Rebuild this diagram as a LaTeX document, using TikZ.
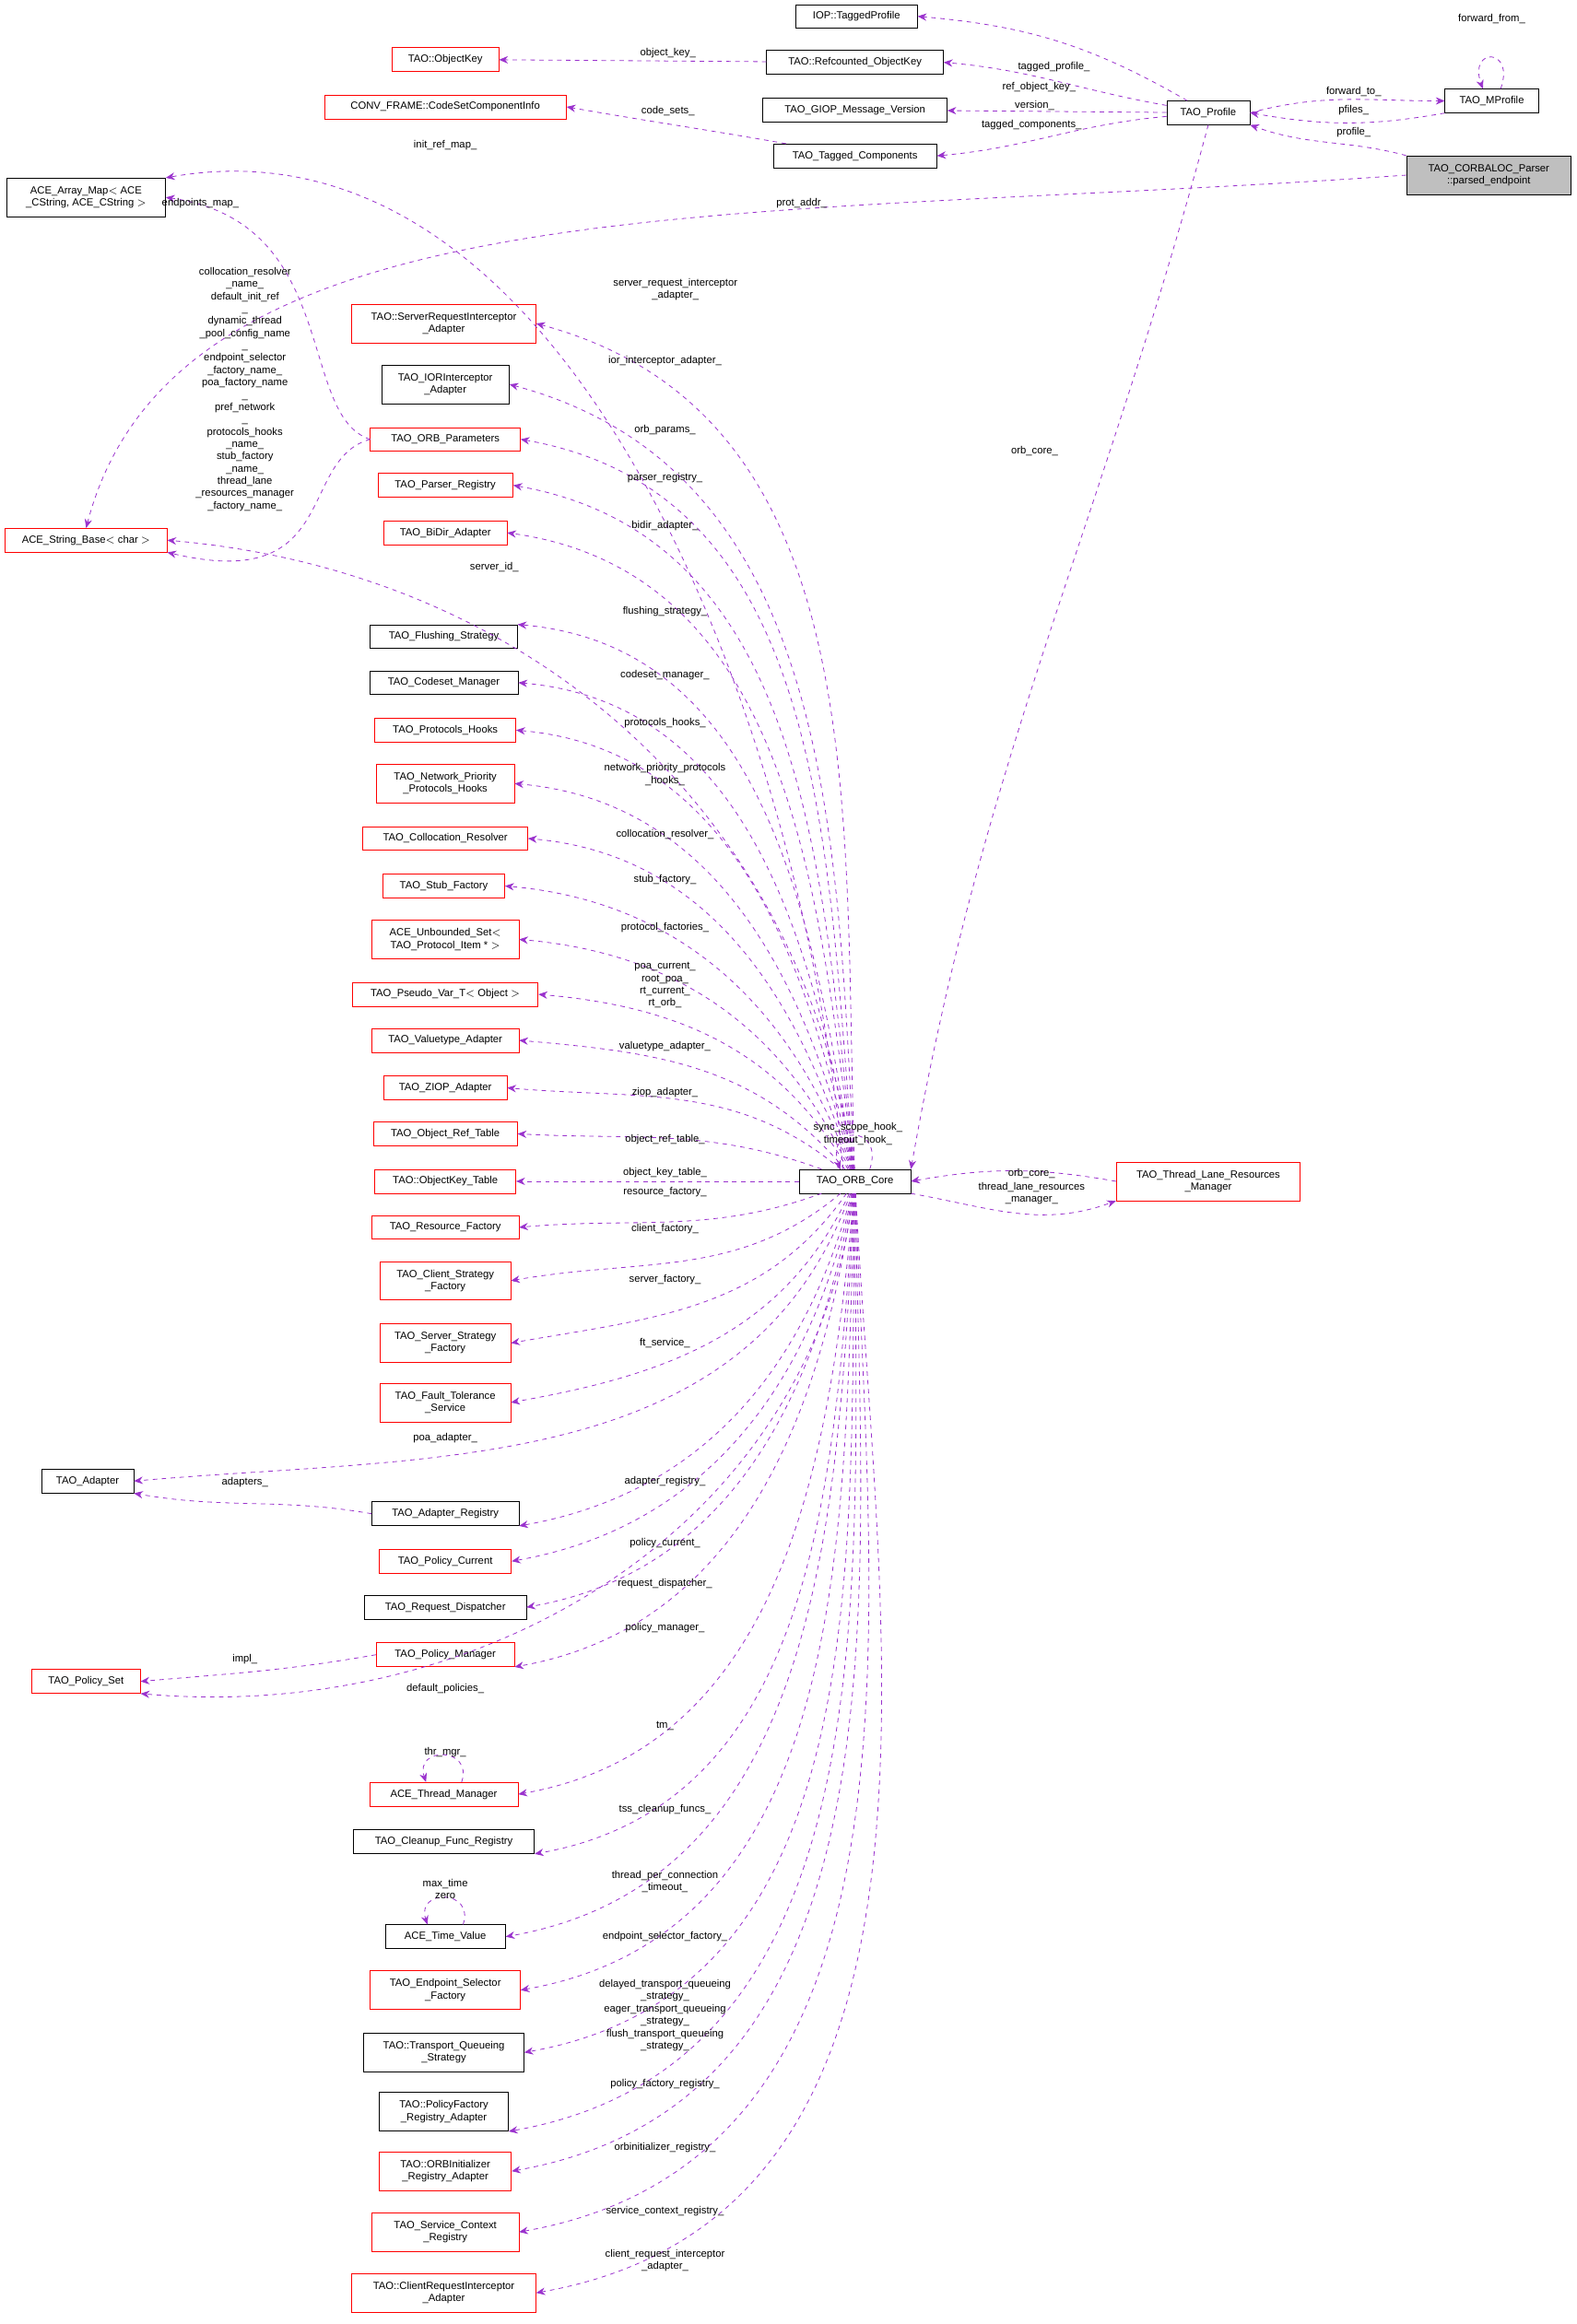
\documentclass[tikz,border=0pt]{standalone}
\usepackage{fontspec}
\setmainfont{Liberation Sans}
\usetikzlibrary{arrows.meta}
\definecolor{ed}{RGB}{154,50,205}
\begin{document}
\begin{tikzpicture}[x=1pt,y=-1pt,font=\fontsize{7}{8.3}\selectfont,
 bk/.style={draw=black,fill=white,inner sep=1pt,align=center,minimum height=16pt},
 rd/.style={bk,draw=red},
 gr/.style={bk,fill=black!25},
 tw/.style={minimum height=26pt},
 e/.style={draw=ed,dashed,-{Stealth[length=6pt,width=5pt]},line width=0.5pt},
 lb/.style={align=center,inner sep=0pt}]
\useasboundingbox (0,0) rectangle (1062,1566);
% nodes
\node[bk,minimum width=82pt] (tp) at (577,11) {IOP::TaggedProfile};
\node[rd,minimum width=72pt] (ok) at (300,40) {TAO::ObjectKey};
\node[bk,minimum width=119pt] (rok) at (576,42) {TAO::Refcounted\_ObjectKey};
\node[rd,minimum width=163pt] (cs) at (300,72) {CONV\_FRAME::CodeSetComponentInfo};
\node[bk,minimum width=124pt] (gv) at (576,74) {TAO\_GIOP\_Message\_Version};
\node[bk,minimum width=110pt] (tc) at (576,105) {TAO\_Tagged\_Components};
\node[bk,minimum width=56pt] (pr) at (814,76) {TAO\_Profile};
\node[bk,minimum width=63pt] (mp) at (1005,68) {TAO\_MProfile};
\node[gr,tw,minimum width=111pt] (pe) at (1003,118) {TAO\_CORBALOC\_Parser\\::parsed\_endpoint};
\node[bk,tw,minimum width=107pt] (am) at (58,133) {ACE\_Array\_Map$<$ ACE\\\_CString, ACE\_CString $>$};
\node[rd,minimum width=109pt] (sb) at (58,364) {ACE\_String\_Base$<$ char $>$};
\node[rd,tw,minimum width=124pt] (sri) at (299,218) {TAO::ServerRequestInterceptor\\\_Adapter};
\node[bk,tw,minimum width=86pt] (ior) at (300,259) {TAO\_IORInterceptor\\\_Adapter};
\node[rd,minimum width=101pt] (op) at (300,296) {TAO\_ORB\_Parameters};
\node[rd,minimum width=91pt] (prr) at (300,327) {TAO\_Parser\_Registry};
\node[rd,minimum width=83pt] (bd) at (300,359) {TAO\_BiDir\_Adapter};
\node[bk,minimum width=99pt] (fs) at (299,429) {TAO\_Flushing\_Strategy};
\node[bk,minimum width=100pt] (cm) at (299,460) {TAO\_Codeset\_Manager};
\node[rd,minimum width=95pt] (ph) at (300,492) {TAO\_Protocols\_Hooks};
\node[rd,tw,minimum width=93pt] (np) at (300,528) {TAO\_Network\_Priority\\\_Protocols\_Hooks};
\node[rd,minimum width=111pt] (cr) at (300,565) {TAO\_Collocation\_Resolver};
\node[rd,minimum width=82pt] (sf) at (299,597) {TAO\_Stub\_Factory};
\node[rd,tw,minimum width=99pt] (us) at (300,633) {ACE\_Unbounded\_Set$<$\\TAO\_Protocol\_Item * $>$};
\node[rd,minimum width=125pt] (pv) at (300,670) {TAO\_Pseudo\_Var\_T$<$ Object $>$};
\node[rd,minimum width=99pt] (va) at (300,701) {TAO\_Valuetype\_Adapter};
\node[rd,minimum width=83pt] (za) at (300,733) {TAO\_ZIOP\_Adapter};
\node[rd,minimum width=97pt] (ort) at (300,764) {TAO\_Object\_Ref\_Table};
\node[rd,minimum width=95pt] (okt) at (300,796) {TAO::ObjectKey\_Table};
\node[rd,minimum width=99pt] (rf) at (300,827) {TAO\_Resource\_Factory};
\node[rd,tw,minimum width=88pt] (csf) at (300,863) {TAO\_Client\_Strategy\\\_Factory};
\node[rd,tw,minimum width=88pt] (ssf) at (300,905) {TAO\_Server\_Strategy\\\_Factory};
\node[rd,tw,minimum width=88pt] (ft) at (300,945) {TAO\_Fault\_Tolerance\\\_Service};
\node[bk,minimum width=62pt] (ad) at (59,998) {TAO\_Adapter};
\node[bk,minimum width=99pt] (ar) at (300,1020) {TAO\_Adapter\_Registry};
\node[rd,minimum width=89pt] (pc) at (300,1052) {TAO\_Policy\_Current};
\node[bk,minimum width=109pt] (rdp) at (300,1083) {TAO\_Request\_Dispatcher};
\node[rd,minimum width=93pt] (pm) at (300,1115) {TAO\_Policy\_Manager};
\node[rd,minimum width=73pt] (ps) at (58,1133) {TAO\_Policy\_Set};
\node[rd,minimum width=100pt] (tm) at (299,1209) {ACE\_Thread\_Manager};
\node[bk,minimum width=122pt] (cf) at (299,1241) {TAO\_Cleanup\_Func\_Registry};
\node[bk,minimum width=81pt] (tv) at (300,1305) {ACE\_Time\_Value};
\node[rd,tw,minimum width=101pt] (es) at (300,1341) {TAO\_Endpoint\_Selector\\\_Factory};
\node[bk,tw,minimum width=108pt] (tq) at (299,1383) {TAO::Transport\_Queueing\\\_Strategy};
\node[bk,tw,minimum width=87pt] (pfr) at (299,1423) {TAO::PolicyFactory\\\_Registry\_Adapter};
\node[rd,tw,minimum width=89pt] (oir) at (300,1463) {TAO::ORBInitializer\\\_Registry\_Adapter};
\node[rd,tw,minimum width=99pt] (scr) at (300,1504) {TAO\_Service\_Context\\\_Registry};
\node[rd,tw,minimum width=124pt] (cri) at (299,1545) {TAO::ClientRequestInterceptor\\\_Adapter};
\node[bk,minimum width=75pt] (core) at (576,796) {TAO\_ORB\_Core};
\node[rd,tw,minimum width=124pt] (tl) at (814,796) {TAO\_Thread\_Lane\_Resources\\\_Manager};
\coordinate (mpa) at ([xshift=6pt]mp.north);
\coordinate (mpb) at ([xshift=-6pt]mp.north);
\coordinate (ca) at ([xshift=10pt]core.north);
\coordinate (cb) at ([xshift=-10pt]core.north);
\coordinate (tma) at ([xshift=12pt]tm.north);
\coordinate (tmb) at ([xshift=-12pt]tm.north);
\coordinate (tva) at ([xshift=12pt]tv.north);
\coordinate (tvb) at ([xshift=-12pt]tv.north);
% top edges
\draw[e] (pr) to[out=150,in=-5] (tp.east);
\draw[e] (rok) -- (ok);
\draw[e] (pr) to[out=170,in=-5] (rok.east);
\draw[e] (tc) to[out=170,in=-10] (cs.east);
\draw[e] (pr) -- (gv);
\draw[e] (pr) to[out=185,in=5] (tc.east);
\draw[e] (pr.east) to[out=15,in=180] (mp.west);
\draw[e] (mp.south west) to[out=190,in=-10] (pr.east);
\draw[e] (mpa) .. controls +(10,-28) and +(-10,-28) .. (mpb);
\draw[e] (pe.north west) to[out=165,in=-20] (pr.south east);
\draw[e] (pe.west) .. controls (500,150) and (120,120) .. (sb.north);
\draw[e] (pr.south) to[out=-105,in=80] (core.north east);
\draw[e] (tl.west) to[out=170,in=10] (core.east);
\draw[e] (core.south east) to[out=-10,in=200] (tl.south west);
\draw[e] (ca) .. controls +(10,-30) and +(-10,-30) .. (cb);
% ORB params
\draw[e] (op.west) .. controls (200,280) and (230,150) .. (am.east);
\draw[e] (op.west) .. controls (200,310) and (230,400) .. (sb.south east);
% from core upward
\draw[e] ([xshift=-8pt]core.north) to[out=95,in=10,looseness=0.9] (am.north east);
\draw[e] (core) to[out=92,in=-15] (sri.east);
\draw[e] (core) to[out=93,in=-15] (ior.east);
\draw[e] (core) to[out=95,in=-10] (op.east);
\draw[e] (core) to[out=96,in=-10] (prr.east);
\draw[e] (core) to[out=97,in=-8] (bd.east);
\draw[e] (core) to[out=98,in=-5] (sb.east);
\draw[e] (core) to[out=99,in=-5] (fs.north east);
\draw[e] (core) to[out=100,in=-5] (cm.east);
\draw[e] (core) to[out=102,in=-5] (ph.east);
\draw[e] (core) to[out=104,in=-5] (np.east);
\draw[e] (core) to[out=107,in=-5] (cr.east);
\draw[e] (core) to[out=110,in=-5] (sf.east);
\draw[e] (core) to[out=115,in=-5] (us.east);
\draw[e] (core) to[out=120,in=-5] (pv.east);
\draw[e] (core) to[out=130,in=-5] (va.east);
\draw[e] (core) to[out=140,in=-5] (za.east);
\draw[e] (core) to[out=160,in=-3] (ort.east);
\draw[e] (core) -- (okt);
% downward
\draw[e] (core) to[out=200,in=5] (rf.east);
\draw[e] (core) to[out=220,in=10] (csf.east);
\draw[e] (core) to[out=235,in=10] (ssf.east);
\draw[e] (core) to[out=245,in=10] (ft.east);
\draw[e] (core) to[out=250,in=5] (ad.east);
\draw[e] (ar.west) to[out=170,in=-10] (ad.south east);
\draw[e] (core) to[out=255,in=10] (ar.south east);
\draw[e] (core) to[out=258,in=10] (pc.east);
\draw[e] (core) to[out=260,in=10] (rdp.east);
\draw[e] (core) to[out=262,in=10] (pm.south east);
\draw[e] (pm.west) to[out=190,in=5] (ps.east);
\draw[e] (core) to[out=263,in=-5] (ps.south east);
\draw[e] (core) to[out=265,in=10] (tm.east);
\draw[e] (tma) .. controls +(8,-24) and +(-8,-24) .. (tmb);
\draw[e] (core) to[out=266,in=10] (cf.south east);
\draw[e] (core) to[out=267,in=10] (tv.east);
\draw[e] (tva) .. controls +(8,-24) and +(-8,-24) .. (tvb);
\draw[e] (core) to[out=268,in=10] (es.east);
\draw[e] (core) to[out=269,in=10] (tq.east);
\draw[e] (core) to[out=270,in=10] (pfr.south east);
\draw[e] (core) to[out=271,in=10] (oir.east);
\draw[e] (core) to[out=272,in=10] (scr.east);
\draw[e] (core) to[out=273,in=10] (cri.east);
% labels
\node[lb] (l1) at (710,45) {tagged\_profile\_};
\node[lb] (l2) at (450,36) {object\_key\_};
\node[lb] (l3) at (700,59) {ref\_object\_key\_};
\node[lb] (l4) at (697,71) {version\_};
\node[lb] (l5) at (450,75) {code\_sets\_};
\node[lb] (l6) at (695,84) {tagged\_components\_};
\node[lb] (l7) at (912,62) {forward\_to\_};
\node[lb] (l8) at (912,74) {pfiles\_};
\node[lb] (l9) at (1005,13) {forward\_from\_};
\node[lb] (l10) at (912,89) {profile\_};
\node[lb] (l11) at (540,137) {prot\_addr\_};
\node[lb] (l12) at (697,304) {orb\_core\_};
\node[lb] (l13) at (695,791) {orb\_core\_};
\node[lb] (l14) at (695,804) {thread\_lane\_resources\\\_manager\_};
\node[lb] (l15) at (578,764) {sync\_scope\_hook\_\\timeout\_hook\_};
\node[lb] (l16) at (135,137) {endpoints\_map\_};
\node[lb,anchor=north] (l17) at (165,180) {collocation\_resolver\\\_name\_\\default\_init\_ref\\\_\\dynamic\_thread\\\_pool\_config\_name\\\_\\endpoint\_selector\\\_factory\_name\_\\poa\_factory\_name\\\_\\pref\_network\\\_\\protocols\_hooks\\\_name\_\\stub\_factory\\\_name\_\\thread\_lane\\\_resources\_manager\\\_factory\_name\_};
\node[lb] at (300,98) {init\_ref\_map\_};
\node[lb] at (455,195) {server\_request\_interceptor\\\_adapter\_};
\node[lb] at (448,243) {ior\_interceptor\_adapter\_};
\node[lb] at (448,290) {orb\_params\_};
\node[lb] at (448,322) {parser\_registry\_};
\node[lb] at (448,354) {bidir\_adapter\_};
\node[lb] at (333,382) {server\_id\_};
\node[lb] at (448,412) {flushing\_strategy\_};
\node[lb] at (448,455) {codeset\_manager\_};
\node[lb] at (448,487) {protocols\_hooks\_};
\node[lb] at (448,522) {network\_priority\_protocols\\\_hooks\_};
\node[lb] at (448,562) {collocation\_resolver\_};
\node[lb] at (448,593) {stub\_factory\_};
\node[lb] at (448,625) {protocol\_factories\_};
\node[lb] at (448,664) {poa\_current\_\\root\_poa\_\\rt\_current\_\\rt\_orb\_};
\node[lb] at (448,705) {valuetype\_adapter\_};
\node[lb] at (448,736) {ziop\_adapter\_};
\node[lb] at (448,768) {object\_ref\_table\_};
\node[lb] at (448,790) {object\_key\_table\_};
\node[lb] at (448,803) {resource\_factory\_};
\node[lb] at (448,828) {client\_factory\_};
\node[lb] at (448,862) {server\_factory\_};
\node[lb] at (448,905) {ft\_service\_};
\node[lb] at (300,969) {poa\_adapter\_};
\node[lb] at (165,999) {adapters\_};
\node[lb] at (448,998) {adapter\_registry\_};
\node[lb] at (448,1040) {policy\_current\_};
\node[lb] at (448,1067) {request\_dispatcher\_};
\node[lb] at (448,1097) {policy\_manager\_};
\node[lb] at (165,1118) {impl\_};
\node[lb] at (300,1138) {default\_policies\_};
\node[lb] at (448,1163) {tm\_};
\node[lb] at (300,1181) {thr\_mgr\_};
\node[lb] at (448,1219) {tss\_cleanup\_funcs\_};
\node[lb] at (448,1268) {thread\_per\_connection\\\_timeout\_};
\node[lb] at (300,1273) {max\_time\\zero};
\node[lb] at (448,1305) {endpoint\_selector\_factory\_};
\node[lb] at (448,1358) {delayed\_transport\_queueing\\\_strategy\_\\eager\_transport\_queueing\\\_strategy\_\\flush\_transport\_queueing\\\_strategy\_};
\node[lb] at (448,1404) {policy\_factory\_registry\_};
\node[lb] at (448,1447) {orbinitializer\_registry\_};
\node[lb] at (448,1490) {service\_context\_registry\_};
\node[lb] at (448,1523) {client\_request\_interceptor\\\_adapter\_};
\end{tikzpicture}
\end{document}
